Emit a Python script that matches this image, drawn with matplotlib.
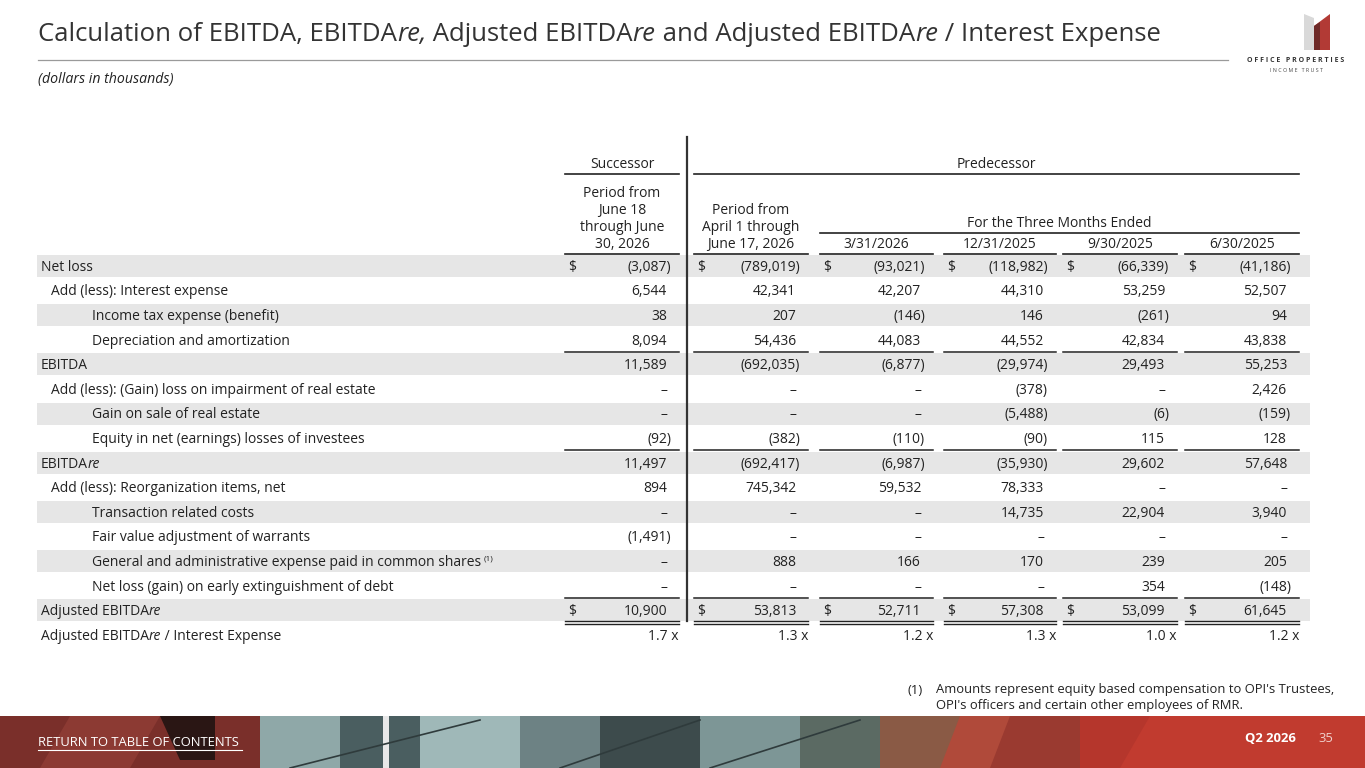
import matplotlib
matplotlib.use("Agg")
import matplotlib.pyplot as plt
from matplotlib.patches import Rectangle, Polygon

plt.rcParams['font.family'] = ['Open Sans', 'DejaVu Sans']

# ---- data ----
col_group = ["Successor", "Predecessor"]
col_heads = ["Period from\nJune 18\nthrough June\n30, 2026",
             "Period from\nApril 1 through\nJune 17, 2026",
             "3/31/2026", "12/31/2025", "9/30/2025", "6/30/2025"]
three_months = "For the Three Months Ended"

row_labels = ["Net loss",
              "Add (less): Interest expense",
              "Income tax expense (benefit)",
              "Depreciation and amortization",
              "EBITDA",
              "Add (less): (Gain) loss on impairment of real estate",
              "Gain on sale of real estate",
              "Equity in net (earnings) losses of investees",
              "EBITDA|re",
              "Add (less): Reorganization items, net",
              "Transaction related costs",
              "Fair value adjustment of warrants",
              "General and administrative expense paid in common shares",
              "Net loss (gain) on early extinguishment of debt",
              "Adjusted EBITDA|re",
              "Adjusted EBITDA|re| / Interest Expense"]
row_indent = [0, 1, 2, 2, 0, 1, 2, 2, 0, 1, 2, 2, 2, 2, 0, 0]

net_loss = [-3087, -789019, -93021, -118982, -66339, -41186]
interest = [6544, 42341, 42207, 44310, 53259, 52507]
income_tax = [38, 207, -146, 146, -261, 94]
depreciation = [8094, 54436, 44083, 44552, 42834, 43838]
ebitda = [11589, -692035, -6877, -29974, 29493, 55253]
impairment = [None, None, None, -378, None, 2426]
gain_sale = [None, None, None, -5488, -6, -159]
equity_inv = [-92, -382, -110, -90, 115, 128]
ebitdare = [11497, -692417, -6987, -35930, 29602, 57648]
reorg = [894, 745342, 59532, 78333, None, None]
transaction = [None, None, None, 14735, 22904, 3940]
warrants = [-1491, None, None, None, None, None]
ga_shares = [None, 888, 166, 170, 239, 205]
debt_ext = [None, None, None, None, 354, -148]
adj_ebitdare = [10900, 53813, 52711, 57308, 53099, 61645]
coverage = [1.7, 1.3, 1.2, 1.3, 1.0, 1.2]

table = [net_loss, interest, income_tax, depreciation, ebitda, impairment,
         gain_sale, equity_inv, ebitdare, reorg, transaction, warrants,
         ga_shares, debt_ext, adj_ebitdare]

W, H = 1365, 768
fig = plt.figure(figsize=(W / 100, H / 100), dpi=100)
ax = fig.add_axes([0, 0, 1, 1])
ax.set_xlim(0, W)
ax.set_ylim(H, 0)
ax.axis('off')
renderer = fig.canvas.get_renderer()

TXT = '#222222'
FS = 10.0
BL = 4.8   # baseline offset below row centre


def rich(x, y, parts, size, color=TXT, **kw):
    # draw text pieces one after another on a shared baseline; odd pieces are italic
    for i, p in enumerate(parts):
        if not p:
            continue
        t = ax.text(x, y, p, fontsize=size, color=color, va='baseline', ha='left',
                    style='italic' if i % 2 else 'normal', **kw)
        x += t.get_window_extent(renderer).width
    return x


def fmt(v):
    if v is None:
        return "–"
    if v < 0:
        return "({:,})".format(-v)
    return "{:,}".format(v)


def ctext(x, y, s, **kw):
    ax.text(x, y + BL, s, fontsize=FS, color=TXT, va='baseline', **kw)


# ---- title ----
rich(38, 41, "Calculation of EBITDA, EBITDA|re,| Adjusted EBITDA|re| and Adjusted EBITDA|re| / Interest Expense".split('|'),
     18.5, color='#333333')
ax.plot([38, 1228], [60, 60], color='#9a9a9a', lw=0.9)
ax.text(38, 79, "(dollars in thousands)", fontsize=10.2, style='italic', color=TXT, va='center')

# logo
ax.add_patch(Polygon([[1304, 14], [1314, 18], [1314, 50], [1304, 50]], color='#d9d9d9', lw=0))
ax.add_patch(Polygon([[1314, 26], [1330, 14], [1330, 50], [1314, 50]], color='#b23a35', lw=0))
ax.add_patch(Polygon([[1314, 26], [1320, 22], [1320, 50], [1314, 50]], color='#6e2a28', lw=0))
ax.text(1296, 61, "O F F I C E   P R O P E R T I E S", fontsize=5.0, weight='bold', color='#333333',
        ha='center', va='center')
ax.text(1296, 71, "I N C O M E   T R U S T", fontsize=3.8, color='#444444', ha='center', va='center')

# ---- table geometry ----
col_l = [565, 694, 820, 944, 1063, 1185]
col_r = [679, 808, 933, 1056, 1177, 1299]
y0, pitch = 266, 24.6
row_y = [y0 + i * pitch for i in range(len(row_labels))]
indent_x = [41, 51, 92]

for i, y in enumerate(row_y):
    if i % 2 == 0:
        ax.add_patch(Rectangle((37, y - 11), 1310 - 37, 22, color='#e6e6e6', lw=0, zorder=0))

# headers
ctext((col_l[0] + col_r[0]) / 2, 163, col_group[0], ha='center')
ctext((col_l[1] + col_r[5]) / 2, 163, col_group[1], ha='center')
ax.plot([col_l[0], col_r[0]], [174, 174], color='#222222', lw=1.2)
ax.plot([col_l[1], col_r[5]], [174, 174], color='#222222', lw=1.2)
for j, head in enumerate(col_heads):
    lines = head.split('\n')
    for k, ln in enumerate(lines):
        yy = 243 - (len(lines) - 1 - k) * 17
        ctext((col_l[j] + col_r[j]) / 2, yy, ln, ha='center')
    ax.plot([col_l[j], col_r[j]], [253.5, 253.5], color='#222222', lw=1.2)
ctext((col_l[2] + col_r[5]) / 2, 222, three_months, ha='center')
ax.plot([col_l[2], col_r[5]], [232.5, 232.5], color='#222222', lw=1.2)

# vertical divider
ax.plot([687, 687], [137, 621], color='#333333', lw=1.6)

# rows
for i, (lab, ind) in enumerate(zip(row_labels, row_indent)):
    y = row_y[i] + BL
    x_end = rich(indent_x[ind], y, lab.split('|'), FS)
    if lab.startswith("General"):
        ax.text(x_end + 3, y - 6, "(1)", fontsize=6.0, color=TXT, va='baseline')

for i, vals in enumerate(table):
    y = row_y[i]
    for j, v in enumerate(vals):
        off = 8 if (v is not None and v < 0) else 12
        ctext(col_r[j] - off, y, fmt(v), ha='right')
        if i in (0, len(table) - 1):
            ctext(col_l[j] + 3, y, "$", ha='left')

for j, v in enumerate(coverage):
    ctext(col_r[j], row_y[-1], "{:.1f} x".format(v), ha='right')

# underlines
for j in range(6):
    for yy in (row_y[3] + 12, row_y[7] + 12, row_y[13] + 12):
        ax.plot([col_l[j], col_r[j]], [yy, yy], color='#222222', lw=1.1)
    for yy in (row_y[14] + 10.5, row_y[14] + 13.5):
        ax.plot([col_l[j], col_r[j]], [yy, yy], color='#222222', lw=1.0)

# footnote
ax.text(908, 690, "(1)", fontsize=9.4, color=TXT, va='center')
ax.text(936, 690, "Amounts represent equity based compensation to OPI's Trustees,", fontsize=9.4, color=TXT, va='center')
ax.text(936, 706, "OPI's officers and certain other employees of RMR.", fontsize=9.4, color=TXT, va='center')

# ---- footer band (photo strip) ----
fy = 716
strips = [(0, 260, '#7a2f2a'), (260, 340, '#8fa8a8'), (340, 420, '#4a5e60'),
          (420, 520, '#9fb8b8'), (520, 600, '#6d8284'), (600, 700, '#3d4b4c'),
          (700, 800, '#7d9696'), (800, 880, '#5b6a63'), (880, 960, '#8a5a45'),
          (960, 1080, '#9a3a30'), (1080, 1365, '#b5362c')]
for x0, x1, c in strips:
    ax.add_patch(Rectangle((x0, fy), x1 - x0, H - fy, color=c, lw=0, zorder=1))
ax.add_patch(Polygon([[70, fy], [160, fy], [130, H], [40, H]], color='#8c3a33', lw=0, zorder=1))
ax.add_patch(Polygon([[160, fy], [215, fy], [215, 760], [180, 760]], color='#2a1614', lw=0, zorder=1))
ax.add_patch(Polygon([[1150, fy], [1365, fy], [1365, H], [1120, H]], color='#c13b2f', lw=0, zorder=1))
ax.add_patch(Polygon([[960, fy], [1010, fy], [990, H], [940, H]], color='#b04a3a', lw=0, zorder=1))
ax.add_patch(Rectangle((383, fy), 6, H - fy, color='#e8e8e8', lw=0, zorder=1))
for xa, xb in [(290, 480), (560, 700), (710, 860)]:
    ax.plot([xa, xb], [H, fy + 4], color='#2f3b3c', lw=1.2, zorder=2)

ax.text(38, 742, "RETURN TO TABLE OF CONTENTS", fontsize=9.4, color='white', va='center', zorder=3)
ax.plot([38, 242], [750, 750], color='white', lw=0.8, zorder=3)
ax.text(1296, 739, "Q2 2026", fontsize=9.4, weight='bold', color='white', ha='right', va='center', zorder=3)
ax.text(1318, 739, "35", fontsize=9.4, color='#f0d0cc', ha='left', va='center', zorder=3)

fig.savefig("out.png", dpi=100)
